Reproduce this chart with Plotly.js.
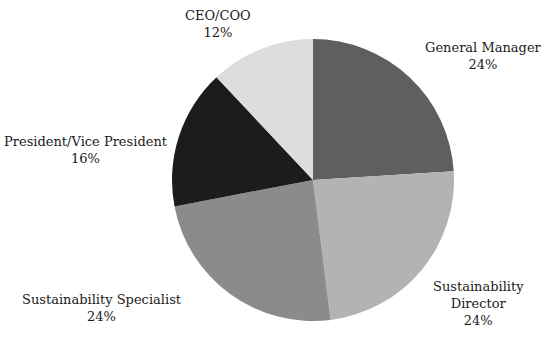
<!DOCTYPE html>
<html>
<head>
<meta charset="utf-8">
<script src="https://cdn.plot.ly/plotly-3.0.1.min.js"></script>
<style>
  html, body { margin: 0; padding: 0; background: #fff; }
  #chart { width: 550px; height: 337px; }
</style>
</head>
<body>
<div id="chart"></div>
<script>
"use strict";
// roles, clockwise from 12 o'clock
const roles = ["General Manager", "Sustainability Director", "Sustainability Specialist", "President/Vice President", "CEO/COO"];
const shares = [24, 24, 24, 16, 12];
const shades = ["#5f5f5f", "#b3b3b3", "#8b8b8b", "#1c1c1c", "#dddddd"];

// label text as it is broken in the picture
const labelLines = [
  ["General Manager"],
  ["Sustainability", "Director"],
  ["Sustainability Specialist"],
  ["President/Vice President"],
  ["CEO/COO"],
];
// label centres in pixels
const labelPos = [[483, 56], [478, 303], [102, 308], [86, 150], [218, 24]];

const W = 550, H = 337;
const cx = 313, cy = 180, r = 141;
// Liberation Serif comes out sans here, so DejaVu Serif a size down
const serif = "DejaVu Serif";

const annotations = roles.map((role, i) => ({
  text: labelLines[i].concat([shares[i] + "%"]).join("<br>"),
  x: labelPos[i][0] / W,
  y: 1 - labelPos[i][1] / H,
  xref: "paper", yref: "paper",
  xanchor: "center", yanchor: "middle",
  showarrow: false,
  align: "center",
  font: {family: serif, size: 13, color: "#1a1a1a"},
}));

const trace = {
  type: "pie",
  labels: roles,
  values: shares,
  sort: false,
  direction: "clockwise",
  rotation: 0,
  textinfo: "none",
  hoverinfo: "label+percent",
  marker: {colors: shades, line: {width: 0}},
  domain: {
    x: [(cx - r) / W, (cx + r) / W],
    y: [1 - (cy + r) / H, 1 - (cy - r) / H],
  },
};

const layout = {
  width: W,
  height: H,
  margin: {l: 0, r: 0, t: 0, b: 0},
  showlegend: false,
  paper_bgcolor: "#fff",
  font: {family: serif},
  annotations: annotations,
};

Plotly.newPlot("chart", [trace], layout, {staticPlot: true});
</script>
</body>
</html>
